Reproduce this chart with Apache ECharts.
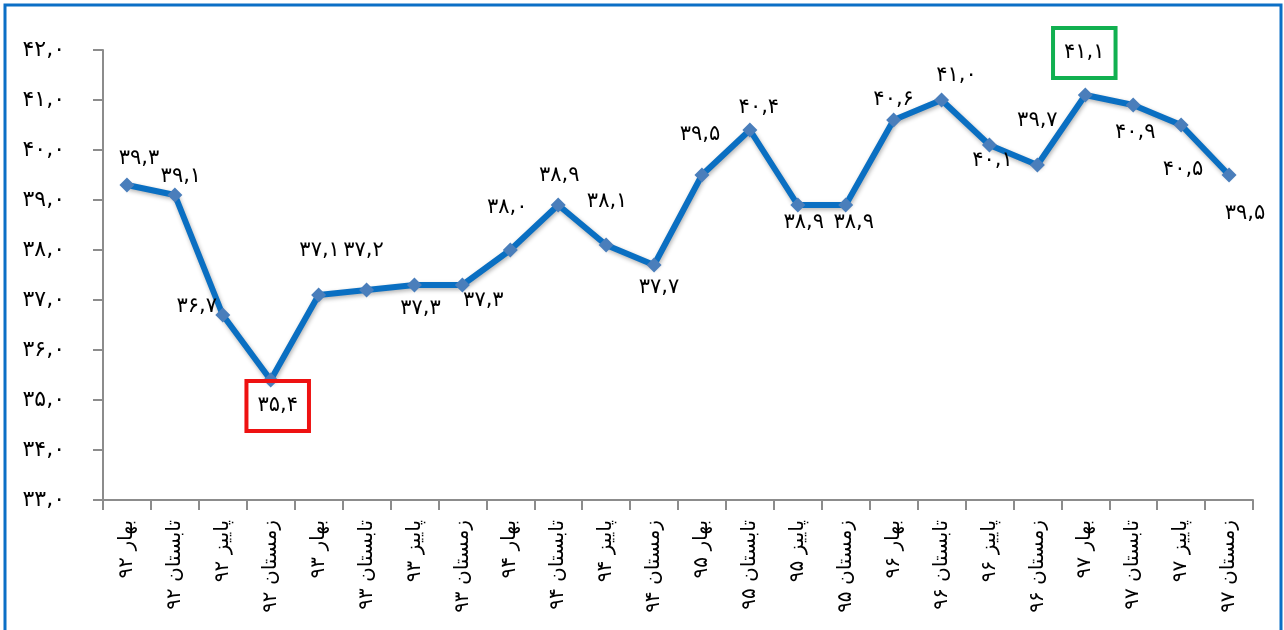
<!DOCTYPE html>
<html>
<head>
<meta charset="utf-8">
<script src="https://cdn.jsdelivr.net/npm/echarts@6/dist/echarts.min.js"></script>
<style>
    html, body { margin: 0; padding: 0; background: #fff; }
    #chart { width: 1284px; height: 630px; }
</style>
</head>
<body>
<div id="chart"></div>
<script>
// داده ها
var categories = [
    'بهار ۹۲', 'تابستان ۹۲', 'پاییز ۹۲', 'زمستان ۹۲',
    'بهار ۹۳', 'تابستان ۹۳', 'پاییز ۹۳', 'زمستان ۹۳',
    'بهار ۹۴', 'تابستان ۹۴', 'پاییز ۹۴', 'زمستان ۹۴',
    'بهار ۹۵', 'تابستان ۹۵', 'پاییز ۹۵', 'زمستان ۹۵',
    'بهار ۹۶', 'تابستان ۹۶', 'پاییز ۹۶', 'زمستان ۹۶',
    'بهار ۹۷', 'تابستان ۹۷', 'پاییز ۹۷', 'زمستان ۹۷'
];
var values = [
    39.3, 39.1, 36.7, 35.4,
    37.1, 37.2, 37.3, 37.3,
    38.0, 38.9, 38.1, 37.7,
    39.5, 40.4, 38.9, 38.9,
    40.6, 41.0, 40.1, 39.7,
    41.1, 40.9, 40.5, 39.5
];
var yMin = 33, yMax = 42, yStep = 1;

// جای برچسب ها نسبت به نقطه (فقط ظاهر)
var labelOffsets = [
    [12, -26], [6, -18], [-26, -8], [7, 26],
    [1, -44], [-3, -39], [6, 24], [21, 16],
    [-3, -42], [1, -29], [1, -43], [5, 23],
    [-2, -40], [9, -22], [6, 18], [8, 18],
    [0, -20], [15, -24], [3, 16], [0, -44],
    [-1, -42], [2, 28], [2, 45], [16, 39]
];
var boxed = { 3: '#ee1111', 20: '#11b050' };

(function () {
    var FONT = '"DejaVu Sans", sans-serif';

    function toFa(num) {
        var s = num.toFixed(1).replace('.', ',');
        return s.replace(/[0-9]/g, function (d) {
            return String.fromCharCode(0x06F0 + parseInt(d, 10));
        });
    }

    var seriesData = values.map(function (v, i) {
        var label = {
            offset: labelOffsets[i]
        };
        if (boxed[i]) {
            label.borderColor = boxed[i];
            label.borderWidth = 4;
            label.padding = [15, 11, 14, 11];
        }
        return { value: v, label: label };
    });

    var option = {
        animation: false,
        backgroundColor: '#fff',
        grid: {
            left: 103,
            right: 31,
            top: 50,
            bottom: 130
        },
        xAxis: {
            type: 'category',
            data: categories,
            boundaryGap: true,
            axisLine: { lineStyle: { color: '#8c8c8c', width: 2 } },
            axisTick: { show: true, length: 10, interval: 0, lineStyle: { color: '#8c8c8c', width: 2 } },
            axisLabel: {
                interval: 0,
                rotate: 90,
                margin: 20,
                color: '#000',
                fontSize: 20,
                fontFamily: FONT
            },
            splitLine: { show: false }
        },
        yAxis: {
            type: 'value',
            min: yMin,
            max: yMax,
            interval: yStep,
            axisLine: { show: true, lineStyle: { color: '#8c8c8c', width: 2 } },
            axisTick: { show: true, length: 10, lineStyle: { color: '#8c8c8c', width: 2 } },
            axisLabel: {
                margin: 38,
                color: '#000',
                fontSize: 22,
                fontFamily: FONT,
                formatter: function (v) { return toFa(v); }
            },
            splitLine: { show: false }
        },
        series: [
            {
                type: 'line',
                data: seriesData,
                symbol: 'diamond',
                symbolSize: 15,
                lineStyle: {
                    color: '#0a6fc2',
                    width: 6,
                    shadowColor: 'rgba(0,0,0,0.3)',
                    shadowBlur: 4,
                    shadowOffsetX: 1,
                    shadowOffsetY: 2
                },
                itemStyle: {
                    color: '#4a7ebb'
                },
                label: {
                    show: true,
                    position: 'inside',
                    align: 'center',
                    verticalAlign: 'middle',
                    color: '#000',
                    fontSize: 21,
                    fontFamily: FONT,
                    formatter: function (p) { return toFa(p.value); }
                }
            }
        ],
        graphic: [
            {
                type: 'rect',
                shape: { x: 5, y: 5, width: 1276, height: 640 },
                style: { fill: 'none', stroke: '#0b6fc6', lineWidth: 3 },
                silent: true
            }
        ]
    };

    var chart = echarts.init(document.getElementById('chart'));
    chart.setOption(option);
})();
</script>
</body>
</html>
